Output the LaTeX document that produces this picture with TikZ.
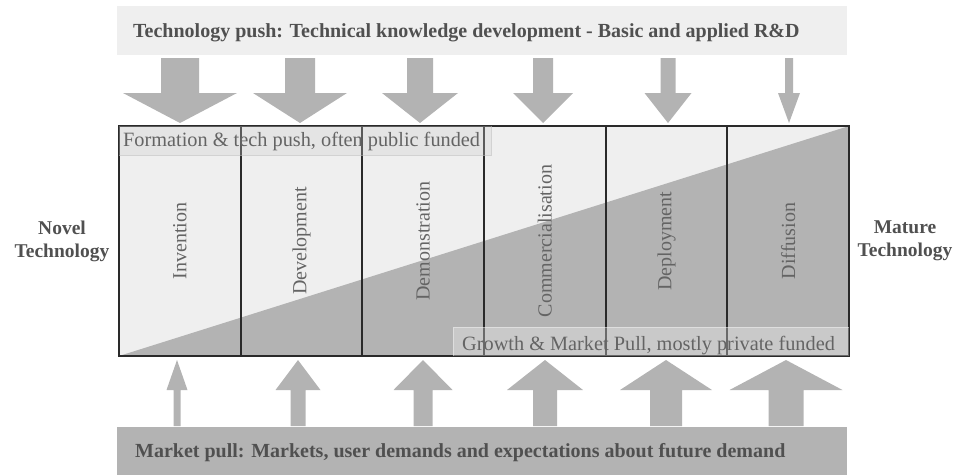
\documentclass[tikz,border=0pt]{standalone}
\usepackage{fontspec}
\setmainfont{Liberation Serif}
\definecolor{lightfill}{HTML}{EFEFEF}
\definecolor{darkfill}{HTML}{B3B3B3}
\definecolor{ink}{HTML}{505050}
\definecolor{softink}{HTML}{646464}
\definecolor{frame}{HTML}{2A2A2A}
% down arrow: centre x, shaft half width, head half width
\newcommand\pusharrow[3]{%
  \fill[darkfill] ({#1-#2},58) -- ({#1+#2},58) -- ({#1+#2},93) -- ({#1+#3},93)
    -- (#1,123) -- ({#1-#3},93) -- ({#1-#2},93) -- cycle;}
% up arrow: centre x, shaft half width, head half width
\newcommand\pullarrow[3]{%
  \fill[darkfill] ({#1-#2},426) -- ({#1+#2},426) -- ({#1+#2},390) -- ({#1+#3},390)
    -- (#1,360) -- ({#1-#3},390) -- ({#1-#2},390) -- cycle;}
\begin{document}
\begin{tikzpicture}[x=1pt,y=-1pt,
  bannertext/.style={anchor=base west, inner sep=0pt, text=ink,
    font=\fontsize{20}{24}\selectfont\bfseries},
  stage/.style={draw=frame, line width=1.8pt, rotate=90, inner sep=0pt,
    minimum width=230pt, minimum height=121.67pt, text=softink,
    font=\fontsize{20}{24}\selectfont},
  phasetext/.style={anchor=base west, inner sep=0pt, text=softink,
    font=\fontsize{20.3}{24}\selectfont},
  endlabel/.style={align=center, text=ink, inner sep=0pt,
    font=\fontsize{19.5}{23}\selectfont\bfseries}]
\useasboundingbox (0,0) rectangle (957,475);

% banners
\fill[lightfill] (117,6) rectangle (847,55);
\node[bannertext] (push) at (133,37.3)
  {Technology push: Technical knowledge development - Basic and applied R\&D};
\fill[darkfill] (117,427) rectangle (847,475);
\node[bannertext] (pull) at (135,457.7)
  {Market pull: Markets, user demands and expectations about future demand};

% stage field with the diagonal split
\fill[lightfill] (119,126) rectangle (849,356);
\fill[darkfill] (119,356) -- (849,126) -- (849,356) -- cycle;

% stages
\node[stage] (inv) at (179.83,241) {Invention};
\node[stage] (dev) at (301.5,241) {Development};
\node[stage] (dem) at (423.17,241) {Demonstration};
\node[stage] (com) at (544.83,241) {Commercialisation};
\node[stage] (dep) at (666.5,241) {Deployment};
\node[stage] (dif) at (788.17,241) {Diffusion};

% phase bands
\fill[black!20, opacity=0.3] (119,126) rectangle (491,155);
\draw[black!25, opacity=0.6, line width=0.6pt] (491,126) -- (491,155) -- (119,155);
\node[phasetext] (formation) at (123,146.7) {Formation \& tech push, often public funded};
\fill[white, opacity=0.3] (453,327) rectangle (849,356);
\draw[white, opacity=0.4, line width=0.6pt] (453,356) -- (453,327) -- (849,327);
\node[phasetext] (growth) at (462,350) {Growth \& Market Pull, mostly private funded};

% maturity ends
\node[endlabel] (novel) at (62,241) {Novel\\Technology};
\node[endlabel] (mature) at (905,241) {Mature\\Technology};

% technology push arrows
\pusharrow{180}{19}{57}
\pusharrow{300}{15}{47}
\pusharrow{420}{13}{38}
\pusharrow{543}{10}{30}
\pusharrow{668}{7.5}{23.5}
\pusharrow{789}{4}{11}

% market pull arrows
\pullarrow{177}{3.5}{10.5}
\pullarrow{298}{7.5}{22.5}
\pullarrow{423}{9.5}{29.5}
\pullarrow{545}{12}{38}
\pullarrow{666}{16}{46}
\pullarrow{786}{17.5}{56.5}
\end{tikzpicture}
\end{document}
